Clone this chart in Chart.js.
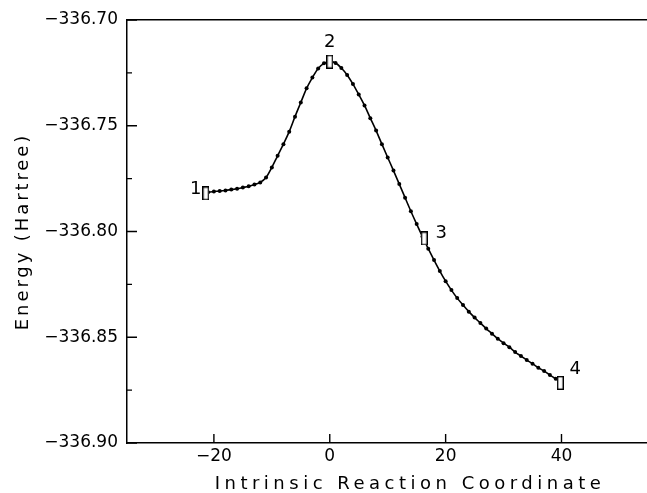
<!DOCTYPE html>
<html><head><meta charset="utf-8">
<script src="https://cdn.jsdelivr.net/npm/chart.js@4.4.0/dist/chart.umd.min.js"></script>
<style>html,body{margin:0;padding:0;background:#fff;overflow:hidden;width:647px;height:493px}canvas{display:block}</style>
</head><body>
<canvas id="c" width="700" height="493"></canvas>
<script>
// ---- data ----
const ircX = [-21,-20,-19,-18,-17,-16,-15,-14,-13,-12,-11,-10,-9,-8,-7,-6,-5,-4,-3,-2,-1,0,
  1,2,3,4,5,6,7,8,9,10,11,12,13,14,15,16,17,18,19,20,21,22,23,24,25,26,27,28,29,30,
  31,32,33,34,35,36,37,38,39,40];
const ircEnergy = [-336.7814,-336.7811,-336.7809,-336.7806,-336.7802,-336.7798,-336.7792,-336.7786,-336.7778,-336.7768,
  -336.7745,-336.7697,-336.7642,-336.7587,-336.7528,-336.7457,-336.7390,-336.7323,-336.7272,-336.7229,-336.7205,-336.7197,
  -336.7203,-336.7227,-336.7260,-336.7303,-336.7352,-336.7404,-336.7464,-336.7523,-336.7587,-336.7650,
  -336.7712,-336.7776,-336.7840,-336.7904,-336.7965,-336.8024,-336.8081,-336.8135,-336.8187,-336.8235,
  -336.8277,-336.8315,-336.8348,-336.8379,-336.8407,-336.8433,-336.8459,-336.8483,-336.8507,-336.8528,
  -336.8547,-336.8570,-336.8589,-336.8608,-336.8625,-336.8644,-336.8660,-336.8679,-336.8696,-336.8712];
const markerX = [-21.4, 0, 16.3, 39.8];
const markerEnergy = [-336.7820, -336.7197, -336.8033, -336.8716];
const markerLabels = ['1','2','3','4'];
const xTickValues = [-20, 0, 20, 40];
const xTickLabels = ['\u221220','0','20','40'];
const yTickValues = [-336.90, -336.85, -336.80, -336.75, -336.70];
const yTickLabels = ['\u2212336.90','\u2212336.85','\u2212336.80','\u2212336.75','\u2212336.70'];
const yMinorTickValues = [-336.875, -336.825, -336.775, -336.725];

// ---- styles ----
const FONT = 'DejaVu Sans';
const labelOffsets = [[-10,-4],[0,-19],[17,-5],[15,-14]];

const boxImg = document.createElement('canvas');
boxImg.width = 7; boxImg.height = 14;
(function(){ const g = boxImg.getContext('2d'); g.fillStyle='#fff'; g.fillRect(0,0,7,14);
  g.strokeStyle='#000'; g.lineWidth=1.4; g.strokeRect(0.7,0.7,5.6,12.6); })();

const titleSpacing = {id:'titleSpacing', beforeDraw(chart){
  [['x','4.5px'],['y','2.9px']].forEach(([id,sp])=>{
    const s = chart.scales[id];
    if (!s._wrapped) { const orig = s.drawTitle;
      s.drawTitle = function(){ const c=this.ctx; c.save(); c.letterSpacing=sp; orig.apply(this, arguments); c.restore(); };
      s._wrapped = true; }
  });
}};

const tickMarks = {id:'tickMarks', afterDraw(chart){
  const {ctx, chartArea:a, scales:{x,y}} = chart;
  ctx.save(); ctx.strokeStyle='#000'; ctx.lineWidth=1.4; ctx.beginPath();
  yTickValues.forEach(v=>{ const p=y.getPixelForValue(v); ctx.moveTo(a.left,p); ctx.lineTo(a.left+10,p); });
  yMinorTickValues.forEach(v=>{ const p=y.getPixelForValue(v); ctx.moveTo(a.left,p); ctx.lineTo(a.left+5,p); });
  xTickValues.forEach(v=>{ const p=x.getPixelForValue(v); ctx.moveTo(p,a.bottom); ctx.lineTo(p,a.bottom-9); });
  ctx.stroke(); ctx.restore();
}};

const pointLabels = {id:'pointLabels', afterDatasetsDraw(chart){
  const ctx = chart.ctx; const meta = chart.getDatasetMeta(0);
  ctx.save(); ctx.fillStyle='#000'; ctx.font='18px "'+FONT+'"'; ctx.textAlign='center'; ctx.textBaseline='middle';
  meta.data.forEach((el,i)=>{ ctx.fillText(markerLabels[i], el.x+labelOffsets[i][0], el.y+labelOffsets[i][1]); });
  ctx.restore();
}};

new Chart(document.getElementById('c'), {
  type: 'line',
  data: { datasets: [
    { label:'Stationary points', data: markerX.map((x,i)=>({x, y:markerEnergy[i]})), showLine:false,
      pointStyle: boxImg, pointRadius: 6, order: 0 },
    { label:'IRC', data: ircX.map((x,i)=>({x, y:ircEnergy[i]})), borderColor:'#000', borderWidth:1.6,
      pointRadius:2, pointBackgroundColor:'#000', pointBorderWidth:0, tension:0.4,
      cubicInterpolationMode:'monotone', fill:false, order: 1 }
  ]},
  options: {
    responsive:false, animation:false, devicePixelRatio:1,
    plugins:{ legend:{display:false}, tooltip:{enabled:false} },
    layout:{ padding:{ top:20, right:5, left:0, bottom:0 } },
    scales:{
      x:{ type:'linear', position:'bottom', min:-35, max:62.7,
        afterBuildTicks: s=>{ s.ticks = xTickValues.map(v=>({value:v})); },
        ticks:{ callback:(v,i)=>xTickLabels[i], font:{family:FONT,size:17}, color:'#000', padding:3, maxRotation:0, autoSkip:false },
        grid:{ display:false, drawTicks:false }, border:{ display:true, color:'#000', width:1.5 },
        title:{ display:true, text:'Intrinsic Reaction Coordinate', font:{family:FONT,size:18,lineHeight:1}, color:'#000', padding:{top:0,bottom:0} },
        afterFit: s=>{ s.height = 50; } },
      xTop:{ type:'linear', position:'top', min:-35, max:62.7, ticks:{display:false},
        grid:{ display:false, drawTicks:false }, border:{ display:true, color:'#000', width:1.5 },
        afterFit: s=>{ s.height = 0; } },
      y:{ type:'linear', position:'left', min:-336.90, max:-336.70,
        afterBuildTicks: s=>{ s.ticks = yTickValues.map(v=>({value:v})); },
        ticks:{ callback:(v,i)=>yTickLabels[i], font:{family:FONT,size:17}, color:'#000', padding:9, autoSkip:false },
        grid:{ display:false, drawTicks:false }, border:{ display:true, color:'#000', width:1.5 },
        title:{ display:true, text:'Energy (Hartree)', font:{family:FONT,size:18,lineHeight:1.2}, color:'#000', padding:{top:13,bottom:0} },
        afterFit: s=>{ s.width = 127; } }
    }
  },
  plugins:[titleSpacing, tickMarks, pointLabels]
});
</script>
</body></html>
